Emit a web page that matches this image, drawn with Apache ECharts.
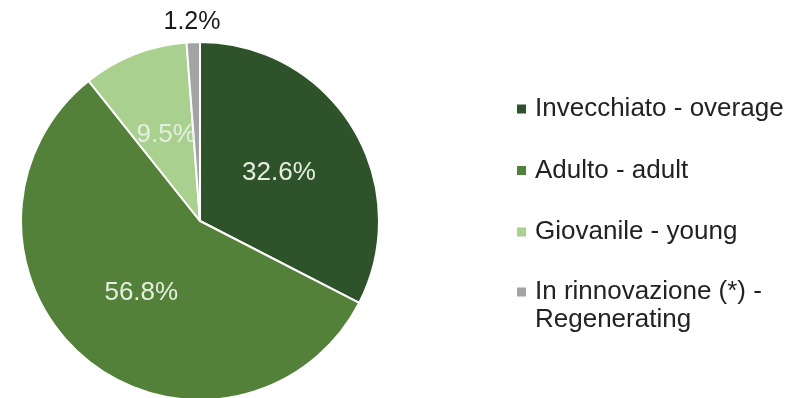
<!DOCTYPE html>
<html>
<head>
<meta charset="utf-8">
<script src="https://cdn.jsdelivr.net/npm/echarts@6/dist/echarts.min.js"></script>
<style>html,body{margin:0;padding:0;background:#fff;}#c{width:794px;height:398px;}</style>
</head>
<body>
<div id="c"></div>
<script>
const categories = ['Invecchiato - overage', 'Adulto - adult', 'Giovanile - young', 'In rinnovazione (*) -\nRegenerating'];
const values = [32.6, 56.8, 9.5, 1.2];
const colors = ['#2e5229', '#548139', '#a9d08e', '#a3a3a3'];

const FONT = 'Liberation Sans, Arial, sans-serif';
const chart = echarts.init(document.getElementById('c'), null, {renderer: 'canvas'});
const data = categories.map((name, i) => {
  const item = {name: name, value: values[i], itemStyle: {color: colors[i]}};
  if (i === 3) {
    item.label = {position: 'outside', color: '#1a1a1a', fontSize: 25};
    item.labelLine = {show: false, length: 20, length2: 0};
  }
  return item;
});
const legendBase = {
  orient: 'vertical',
  left: 515,
  padding: 0,
  itemWidth: 11,
  itemHeight: 11,
  itemGap: 33.5,
  icon: 'rect',
  selectedMode: false,
  textStyle: {fontSize: 26, fontFamily: FONT, color: '#222', lineHeight: 28, padding: [0, 0, 0, 3]},
  // a leading empty line keeps the icon aligned with the first text line
  formatter: name => name.indexOf('\n') >= 0 ? '\n' + name : name
};
chart.setOption({
  animation: false,
  legend: [
    Object.assign({}, legendBase, {top: 95, data: categories.slice(0, 3)}),
    Object.assign({}, legendBase, {top: 250, data: categories.slice(3)})
  ],
  series: [{
    type: 'pie',
    center: [200, 221],
    radius: 179,
    startAngle: 90,
    clockwise: true,
    data: data,
    itemStyle: {borderColor: '#fff', borderWidth: 2},
    label: {
      show: true,
      position: 'inside',
      formatter: p => p.value.toFixed(1) + '%',
      fontSize: 26,
      fontFamily: FONT,
      color: '#e6eee0'
    },
    labelLayout: function (params) {
      if (params.dataIndex === 3) return {dx: 33};
      return {};
    },
    emphasis: {disabled: true}
  }]
});
</script>
</body>
</html>
